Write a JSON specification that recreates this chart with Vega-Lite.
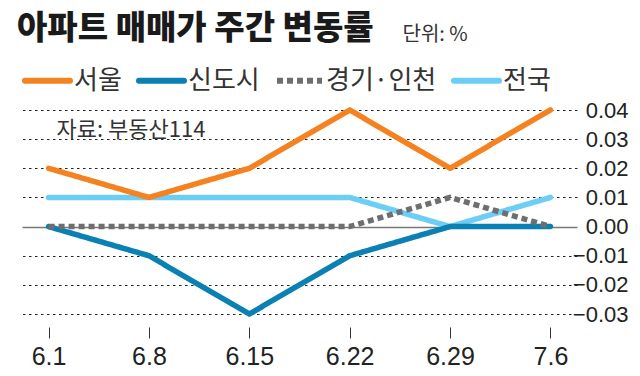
{
  "$schema": "https://vega.github.io/schema/vega-lite/v6.json",
  "width": 555,
  "height": 204,
  "autosize": "none",
  "padding": {"left": 22, "top": 110, "right": 63, "bottom": 62},
  "background": "white",
  "config": {
    "view": {"stroke": null},
    "font": "Liberation Sans, Noto Sans CJK KR, sans-serif"
  },
  "title": {
    "text": "아파트 매매가 주간 변동률",
    "anchor": "start",
    "frame": "group",
    "font": "Noto Sans CJK KR",
    "fontSize": 33,
    "fontWeight": 900,
    "color": "#1a1a1a",
    "baseline": "alphabetic",
    "dx": -5,
    "offset": -48
  },
  "data": {
    "values": [
      {"date": "6.1", "region": "전국", "value": 0.01},
      {"date": "6.8", "region": "전국", "value": 0.01},
      {"date": "6.15", "region": "전국", "value": 0.01},
      {"date": "6.22", "region": "전국", "value": 0.01},
      {"date": "6.29", "region": "전국", "value": 0.0},
      {"date": "7.6", "region": "전국", "value": 0.01},
      {"date": "6.1", "region": "신도시", "value": 0.0},
      {"date": "6.8", "region": "신도시", "value": -0.01},
      {"date": "6.15", "region": "신도시", "value": -0.03},
      {"date": "6.22", "region": "신도시", "value": -0.01},
      {"date": "6.29", "region": "신도시", "value": 0.0},
      {"date": "7.6", "region": "신도시", "value": 0.0},
      {"date": "6.1", "region": "서울", "value": 0.02},
      {"date": "6.8", "region": "서울", "value": 0.01},
      {"date": "6.15", "region": "서울", "value": 0.02},
      {"date": "6.22", "region": "서울", "value": 0.04},
      {"date": "6.29", "region": "서울", "value": 0.02},
      {"date": "7.6", "region": "서울", "value": 0.04},
      {"date": "6.1", "region": "경기·인천", "value": 0.0},
      {"date": "6.8", "region": "경기·인천", "value": 0.0},
      {"date": "6.15", "region": "경기·인천", "value": 0.0},
      {"date": "6.22", "region": "경기·인천", "value": 0.0},
      {"date": "6.29", "region": "경기·인천", "value": 0.01},
      {"date": "7.6", "region": "경기·인천", "value": 0.0}
    ]
  },
  "encoding": {
    "x": {
      "field": "date",
      "type": "ordinal",
      "scale": {"domain": ["6.1", "6.8", "6.15", "6.22", "6.29", "7.6"], "type": "point", "padding": 0.265},
      "axis": {
        "title": null,
        "orient": "bottom",
        "offset": 13,
        "domain": false,
        "grid": false,
        "ticks": true,
        "tickSize": 11,
        "tickColor": "#333",
        "tickWidth": 1,
        "labelAngle": 0,
        "labelFont": "Liberation Sans",
        "labelFontSize": 25,
        "labelColor": "#222",
        "labelPadding": 6
      }
    },
    "y": {
      "field": "value",
      "type": "quantitative",
      "scale": {"domain": [-0.03, 0.04], "nice": false, "zero": false},
      "axis": {
        "orient": "right",
        "values": [-0.03, -0.02, -0.01, 0, 0.01, 0.02, 0.03, 0.04],
        "format": ".2f",
        "domain": false,
        "ticks": false,
        "grid": true,
        "gridColor": {"condition": {"test": "datum.value === 0", "value": "#777"}, "value": "#222"},
        "gridDash": {"condition": {"test": "datum.value === 0", "value": []}, "value": [2.5, 3.5]},
        "gridWidth": {"condition": {"test": "datum.value === 0", "value": 1.5}, "value": 1},
        "labelAlign": "right",
        "labelBaseline": "middle",
        "labelPadding": 51,
        "labelFont": "Liberation Sans",
        "labelFontSize": 22,
        "labelColor": "#222",
        "title": "단위: %",
        "titleAngle": 0,
        "titleX": -175,
        "titleY": -70,
        "titleAlign": "left",
        "titleBaseline": "alphabetic",
        "titleFont": "Noto Sans CJK KR",
        "titleFontSize": 20,
        "titleFontWeight": "normal",
        "titleColor": "#333"
      }
    },
    "color": {
      "field": "region",
      "type": "nominal",
      "scale": {
        "domain": ["서울", "신도시", "경기·인천", "전국"],
        "range": ["#F58220", "#0A80B3", "#6D6E70", "#6CCEF5"]
      },
      "legend": {
        "title": null,
        "orient": "none",
        "direction": "horizontal",
        "legendX": 0,
        "legendY": -55,
        "padding": 0,
        "symbolType": "stroke",
        "symbolSize": 2025,
        "symbolStrokeWidth": 6,
        "labelFont": "Noto Sans CJK KR",
        "labelFontSize": 26,
        "labelColor": "#333",
        "labelOffset": 1,
        "columnPadding": 5,
        "encode": {
          "symbols": {
            "update": {
              "strokeCap": [
                {"test": "datum.value === '경기·인천'", "value": "butt"},
                {"value": "round"}
              ]
            }
          }
        }
      }
    },
    "strokeDash": {
      "field": "region",
      "type": "nominal",
      "scale": {
        "domain": ["서울", "신도시", "경기·인천", "전국"],
        "range": [[1, 0], [1, 0], [6, 4], [1, 0]]
      },
      "legend": {
        "title": null,
        "orient": "none",
        "direction": "horizontal",
        "legendX": 0,
        "legendY": -55,
        "padding": 0,
        "symbolType": "stroke",
        "symbolSize": 2025,
        "symbolStrokeWidth": 6,
        "labelFont": "Noto Sans CJK KR",
        "labelFontSize": 26,
        "labelColor": "#333",
        "labelOffset": 1,
        "columnPadding": 5
      }
    }
  },
  "layer": [
    {
      "transform": [{"filter": "datum.region !== '경기·인천'"}],
      "mark": {"type": "line", "strokeWidth": 5.5, "strokeCap": "round", "strokeJoin": "round"}
    },
    {
      "transform": [{"filter": "datum.region === '경기·인천'"}],
      "mark": {"type": "line", "strokeWidth": 5.5, "strokeCap": "butt", "strokeJoin": "miter"}
    },
    {
      "data": {"values": [{"label": "자료: 부동산114", "pos": "6.1", "v": 0.033}]},
      "mark": {
        "type": "text",
        "align": "left",
        "baseline": "middle",
        "dx": 8,
        "font": "Noto Sans CJK KR",
        "fontSize": 22,
        "fill": "#333"
      },
      "encoding": {
        "x": {"field": "pos", "type": "ordinal"},
        "y": {"field": "v", "type": "quantitative"},
        "text": {"field": "label"},
        "color": {"value": "#333"},
        "strokeDash": {"value": [1, 0]}
      }
    }
  ]
}
